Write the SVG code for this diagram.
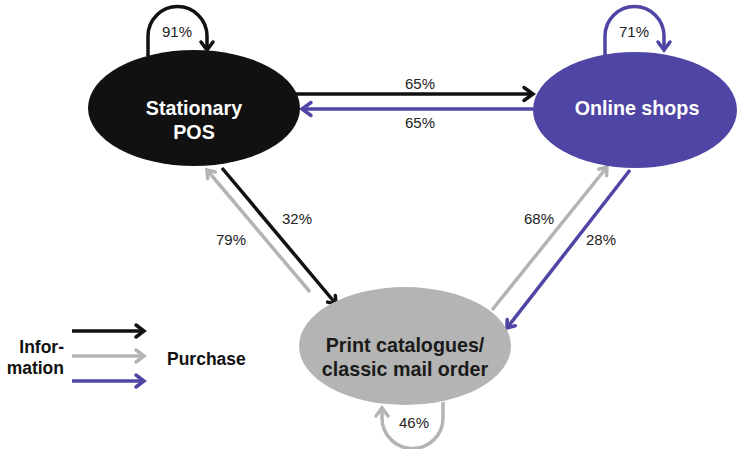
<svg xmlns="http://www.w3.org/2000/svg" width="738" height="449" viewBox="0 0 738 449">
  <style>
    .lbl { font-family: "Liberation Sans", Arial, sans-serif; font-size: 15px; fill: #222; text-anchor: middle; }
    .node-text { font-family: "Liberation Sans", Arial, sans-serif; font-size: 19.7px; font-weight: bold; text-anchor: middle; }
    .legend { font-family: "Liberation Sans", Arial, sans-serif; font-size: 17.5px; font-weight: bold; fill: #111; }
    .k { stroke: #111111; }
    .g { stroke: #b3b4b3; }
    .p { stroke: #4f45a5; }
    .edge { fill: none; stroke-width: 3.5; }
    .head { fill: none; stroke-width: 3.5; stroke-linecap: round; stroke-linejoin: miter; }
  </style>
  <rect width="738" height="449" fill="#ffffff"/>

  <g id="connectors">
    <!-- self loops -->
    <path class="edge k" d="M148,56 V36 A29.5,29.5 0 0 1 207,36 V50"/>
    <polyline class="head k" points="201,42 207,50 213,42"/>
    <path class="edge p" d="M605,56 V36 A29.5,29.5 0 0 1 664,36 V50"/>
    <polyline class="head p" points="658,42 664,50 670,42"/>
    <path class="edge g" d="M443,402 V418 A30.5,30.5 0 0 1 382,418 V410"/>
    <polyline class="head g" points="376,416 382,408 388,416"/>

    <!-- POS <-> Online -->
    <line class="edge k" x1="296" y1="94" x2="533" y2="94"/>
    <polyline class="head k" points="524,87.5 533,94 524,100.5"/>
    <line class="edge p" x1="533" y1="109" x2="302" y2="109"/>
    <polyline class="head p" points="311,102.5 302,109 311,115.5"/>

    <!-- POS <-> Print -->
    <line class="edge k" x1="222" y1="168" x2="336" y2="304"/>
    <polyline class="head k" points="327.6,302.1 336,304 335.3,295.5"/>
    <line class="edge g" x1="310" y1="292" x2="207" y2="170"/>
    <polyline class="head g" points="215.4,172 207,170 207.7,178.5"/>

    <!-- Online <-> Print -->
    <line class="edge g" x1="492" y1="310" x2="607" y2="167"/>
    <polyline class="head g" points="606.6,175.6 607,167 598.8,169.3"/>
    <line class="edge p" x1="630" y1="170" x2="507" y2="328"/>
    <polyline class="head p" points="507.2,319.4 507,328 515.2,325.7"/>

    <!-- legend arrows -->
    <line class="edge k" x1="72" y1="331" x2="144" y2="331"/>
    <polyline class="head k" points="136,325 144,331 136,337"/>
    <line class="edge g" x1="72" y1="356" x2="144" y2="356"/>
    <polyline class="head g" points="136,350 144,356 136,362"/>
    <line class="edge p" x1="72" y1="381" x2="144" y2="381"/>
    <polyline class="head p" points="136,375 144,381 136,387"/>
  </g>

  <g id="node-pos">
    <ellipse cx="194" cy="108" rx="106" ry="58" fill="#111111"/>
    <text class="node-text" x="194" y="115" fill="#ffffff">Stationary</text>
    <text class="node-text" x="194" y="139" fill="#ffffff">POS</text>
  </g>

  <g id="node-online">
    <ellipse cx="635" cy="110" rx="102" ry="58" fill="#4f45a5"/>
    <text class="node-text" x="637" y="115" fill="#ffffff">Online shops</text>
  </g>

  <g id="node-print">
    <ellipse cx="405" cy="346" rx="106" ry="59" fill="#b3b4b3"/>
    <text class="node-text" x="405" y="352" fill="#1a1a1a">Print catalogues/</text>
    <text class="node-text" x="405" y="376" fill="#1a1a1a">classic mail order</text>
  </g>

  <g id="labels">
    <text class="lbl" x="177" y="37">91%</text>
    <text class="lbl" x="634" y="37">71%</text>
    <text class="lbl" x="414" y="428">46%</text>
    <text class="lbl" x="420" y="89">65%</text>
    <text class="lbl" x="420" y="128">65%</text>
    <text class="lbl" x="297" y="224">32%</text>
    <text class="lbl" x="231" y="245">79%</text>
    <text class="lbl" x="539" y="224">68%</text>
    <text class="lbl" x="601" y="245">28%</text>
  </g>

  <g id="legend">
    <text class="legend" x="64" y="353" text-anchor="end">Infor-</text>
    <text class="legend" x="64" y="374" text-anchor="end">mation</text>
    <text class="legend" x="167" y="365">Purchase</text>
  </g>
</svg>
